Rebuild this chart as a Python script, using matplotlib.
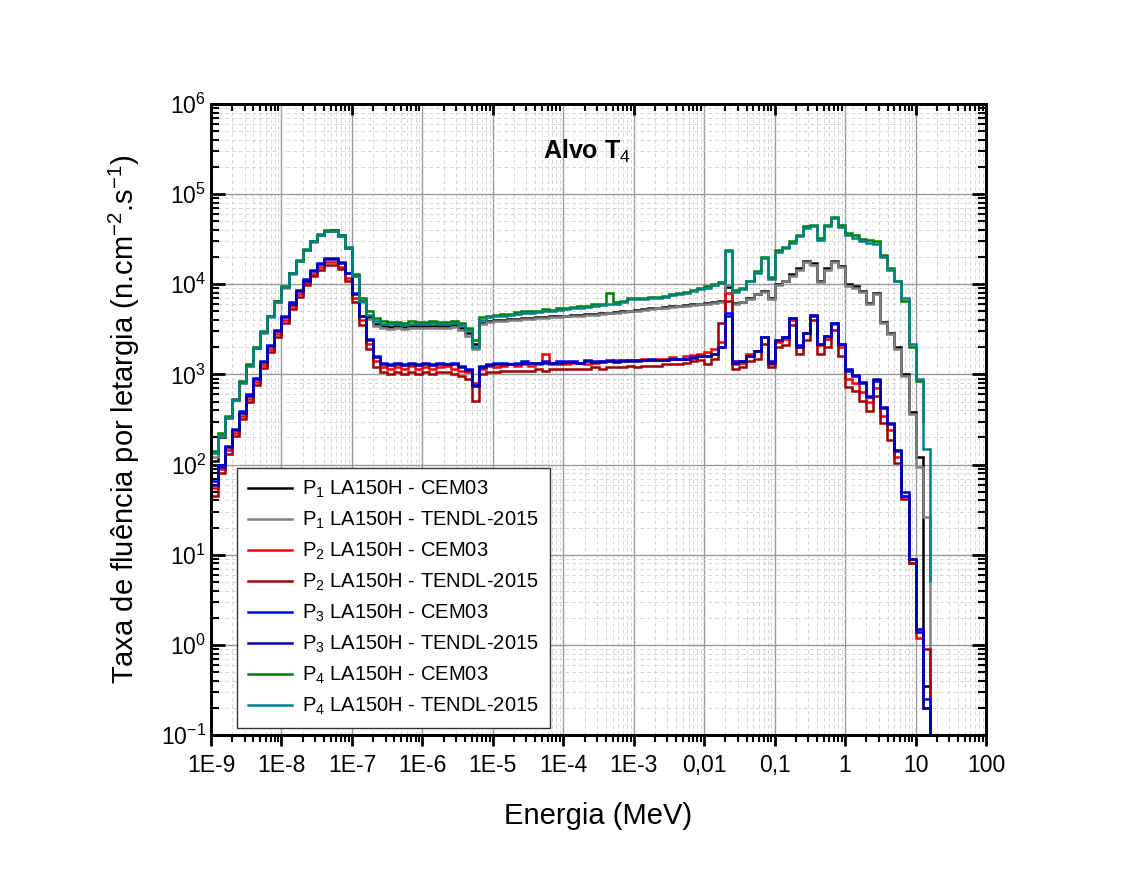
import numpy as np
import matplotlib
matplotlib.use("Agg")
import matplotlib.pyplot as plt
from matplotlib.ticker import LogLocator, NullFormatter

plt.rcParams['font.family'] = ['Liberation Sans', 'DejaVu Sans']
plt.rcParams['mathtext.fontset'] = 'custom'
plt.rcParams['mathtext.rm'] = 'Liberation Sans'
plt.rcParams['mathtext.it'] = 'Liberation Sans:italic'
plt.rcParams['mathtext.bf'] = 'Liberation Sans:bold'

# energy bins: log10(E/MeV), 10 per decade from 1E-9 to ~16 MeV
log_edges = np.round(np.arange(-9.0, 1.21, 0.1), 2)

# flux per lethargy (n.cm^-2.s^-1), one value per bin, rows = decades
p1_cem03 = [
    110, 200, 330, 520, 820, 1280, 1950, 2950, 4400, 6500,
    9300, 13300, 18300, 24200, 30000, 35500, 39000, 39500, 35000, 25500,
    12500, 6500, 4300, 3600, 3400, 3350, 3400, 3350, 3450, 3400,
    3400, 3450, 3400, 3450, 3500, 3300, 2900, 2200, 3700, 3900,
    4000, 4050, 4100, 4150, 4200, 4250, 4300, 4350, 4400, 4450,
    4500, 4550, 4600, 4650, 4700, 4800, 4850, 4900, 5000, 5100,
    5200, 5300, 5400, 5500, 5600, 5700, 5800, 5900, 6000, 6100,
    6200, 6300, 6500, 9300, 6200, 6400, 7000, 7800, 8500, 7000,
    10000, 11000, 13000, 15000, 18000, 17000, 11000, 15000, 18000, 16000,
    10000, 9500, 8500, 6200, 8000, 3800, 2900, 2000, 1000, 380,
    120, 0.35]
p1_tendl = [
    120, 205, 330, 520, 820, 1270, 1950, 2900, 4350, 6400,
    9200, 13100, 18000, 24000, 29800, 35000, 38500, 39000, 34500, 25000,
    12300, 6300, 4100, 3400, 3250, 3200, 3250, 3200, 3300, 3250,
    3250, 3300, 3250, 3300, 3350, 3100, 2700, 1900, 3600, 3800,
    3900, 3950, 4000, 4050, 4100, 4150, 4200, 4250, 4300, 4350,
    4400, 4450, 4500, 4550, 4600, 4700, 4750, 4800, 4900, 5000,
    5100, 5200, 5300, 5400, 5500, 5600, 5700, 5800, 5900, 6000,
    6100, 6200, 6400, 9800, 6000, 6300, 6900, 7700, 8300, 6800,
    9700, 10800, 12500, 14500, 17500, 16500, 10500, 14500, 17500, 15500,
    9500, 9000, 8200, 6000, 7800, 3700, 2800, 1900, 950, 360,
    95, 26]
p2_cem03 = [
    55, 90, 145, 225, 350, 540, 830, 1270, 1900, 2800,
    4000, 5700, 7800, 10300, 13000, 15500, 17500, 17500, 15500, 11800,
    7000, 4000, 2200, 1400, 1200, 1150, 1200, 1150, 1250, 1150,
    1200, 1150, 1200, 1250, 1150, 1100, 1050, 800, 1150, 1250,
    1200, 1250, 1300, 1250, 1300, 1250, 1300, 1700, 1300, 1300,
    1300, 1350, 1350, 1300, 1350, 1400, 1400, 1450, 1400, 1450,
    1450, 1500, 1450, 1500, 1500, 1550, 1500, 1600, 1650, 1700,
    1750, 1900, 2300, 7900, 1300, 1350, 1700, 1800, 2600, 1300,
    2300, 2500, 4000, 2000, 2900, 4600, 2100, 2500, 3600, 2000,
    900, 800, 640, 490, 700, 350, 240, 120, 45, 8,
    1.2, 0.2]
p2_tendl = [
    45, 80, 130, 205, 320, 500, 770, 1180, 1780, 2600,
    3750, 5300, 7300, 9700, 12200, 14500, 16300, 16500, 14600, 11000,
    6300, 3500, 1900, 1200, 1050, 1000, 1050, 1000, 1050, 1000,
    1050, 1000, 1050, 1050, 1000, 950, 900, 510, 1000, 1050,
    1050, 1100, 1100, 1100, 1100, 1100, 1150, 1100, 1150, 1150,
    1150, 1150, 1150, 1150, 1200, 1150, 1200, 1200, 1200, 1250,
    1200, 1250, 1250, 1250, 1300, 1300, 1300, 1350, 1400, 1450,
    1300, 1500, 3700, 6600, 1150, 1200, 1400, 1500, 2200, 1200,
    2000, 2100, 3500, 1700, 2400, 4000, 1700, 2000, 3100, 1600,
    720, 650, 510, 390, 570, 290, 185, 105, 42, 8,
    1.5, 0.9]
p3_cem03 = [
    65, 100, 160, 250, 390, 600, 920, 1400, 2100, 3100,
    4400, 6300, 8600, 11300, 14300, 17000, 19500, 19500, 17500, 13500,
    8000, 4500, 2500, 1600, 1350, 1300, 1350, 1300, 1350, 1300,
    1350, 1300, 1350, 1300, 1350, 1250, 1150, 760, 1250, 1300,
    1350, 1350, 1300, 1350, 1400, 1350, 1350, 1400, 1350, 1400,
    1400, 1400, 1350, 1450, 1400, 1400, 1450, 1400, 1450, 1450,
    1450, 1450, 1500, 1450, 1450, 1500, 1500, 1500, 1550, 1600,
    1600, 1700, 2000, 4800, 1400, 1400, 1600, 1800, 2600, 1400,
    2400, 2600, 4200, 2100, 2900, 4600, 2200, 2700, 3700, 2200,
    1100, 950, 800, 560, 850, 420, 280, 140, 45, 9,
    1.5, 0.25]
p3_tendl = [
    60, 95, 155, 240, 375, 580, 890, 1360, 2050, 3000,
    4300, 6100, 8400, 11000, 14000, 16700, 19000, 19200, 17200, 13200,
    7800, 4400, 2400, 1550, 1300, 1280, 1300, 1280, 1300, 1280,
    1300, 1280, 1300, 1300, 1300, 1220, 1120, 750, 1220, 1280,
    1300, 1320, 1300, 1320, 1350, 1330, 1330, 1350, 1330, 1350,
    1370, 1370, 1350, 1400, 1380, 1380, 1400, 1380, 1420, 1420,
    1420, 1430, 1450, 1430, 1430, 1470, 1470, 1480, 1520, 1580,
    1600, 1700, 2000, 4500, 1350, 1400, 1600, 1800, 2600, 1350,
    2400, 2600, 4200, 2000, 2900, 4500, 2200, 2700, 3700, 2200,
    1150, 980, 820, 580, 880, 430, 290, 145, 50, 9,
    1.4, 0.2]
p4_cem03 = [
    140, 225, 350, 540, 840, 1300, 2000, 3000, 4500, 6600,
    9500, 13500, 18500, 24500, 30500, 36000, 39500, 40000, 35500, 26000,
    13000, 7000, 5000, 4200, 3900, 3800, 3850, 3750, 3900, 3800,
    3850, 3900, 3800, 3850, 3900, 3700, 3300, 2400, 4300, 4500,
    4600, 4700, 4700, 4900, 5000, 5000, 5100, 5300, 5200, 5400,
    5500, 5600, 5700, 5800, 6000, 6100, 8000, 6300, 6600, 7000,
    7000, 7100, 7200, 7200, 7500, 7800, 8000, 8300, 8600, 9000,
    9500, 10000, 10500, 24000, 8600, 9000, 11000, 14000, 20000, 12000,
    24000, 26000, 30000, 35000, 44000, 46000, 33000, 46000, 56000, 46000,
    37000, 35000, 32000, 31000, 30000, 21000, 15000, 11000, 6500, 2000,
    850]
p4_tendl = [
    135, 215, 340, 520, 810, 1250, 1950, 2950, 4400, 6400,
    9300, 13200, 18000, 24000, 30000, 35500, 39000, 39000, 34500, 25000,
    12500, 6600, 4600, 3900, 3650, 3600, 3600, 3550, 3650, 3600,
    3650, 3700, 3600, 3650, 3700, 3500, 3100, 2000, 4000, 4300,
    4400, 4500, 4550, 4700, 4800, 4850, 4900, 5100, 5000, 5200,
    5300, 5400, 5500, 5600, 5800, 5900, 6100, 6100, 6400, 6800,
    6800, 6900, 7000, 7000, 7300, 7600, 7800, 8100, 8400, 8800,
    9200, 9800, 10200, 23500, 8300, 8800, 10800, 13500, 19500, 11500,
    23000, 25000, 29000, 34000, 42000, 44000, 31000, 44000, 54000, 43000,
    35000, 33000, 30000, 29000, 28000, 20000, 14500, 11000, 7000, 2200,
    900, 150]

series = [
    (p1_cem03, "P$_1$ LA150H - CEM03", "black", 0.18),
    (p1_tendl, "P$_1$ LA150H - TENDL-2015", "#808080", 0.05),
    (p2_cem03, "P$_2$ LA150H - CEM03", "#ff0000", 0.05),
    (p2_tendl, "P$_2$ LA150H - TENDL-2015", "#a00000", 0.05),
    (p3_cem03, "P$_3$ LA150H - CEM03", "#0000ff", 0.05),
    (p3_tendl, "P$_3$ LA150H - TENDL-2015", "#0000a8", 0.05),
    (p4_cem03, "P$_4$ LA150H - CEM03", "#008000", 300),
    (p4_tendl, "P$_4$ LA150H - TENDL-2015", "#008080", 5),
]

x_ticks = [1e-9, 1e-8, 1e-7, 1e-6, 1e-5, 1e-4, 1e-3, 1e-2, 1e-1, 1, 10, 100]
x_labels = ["1E-9", "1E-8", "1E-7", "1E-6", "1E-5", "1E-4", "1E-3",
            "0,01", "0,1", "1", "10", "100"]

fig = plt.figure(figsize=(11.31, 8.73), dpi=100)
ax = fig.add_axes([0.1866, 0.1581, 0.6852, 0.7228])

edges = 10.0 ** log_edges
for vals, lab, col, base in series:
    n = len(vals)
    ax.stairs(vals, edges[:n + 1], baseline=base, color=col, lw=1.8, label=lab)

ax.set_xscale('log')
ax.set_yscale('log')
ax.set_xlim(1e-9, 100)
ax.set_ylim(0.1, 1e6)

ax.set_xticks(x_ticks, x_labels)
ax.xaxis.set_minor_locator(LogLocator(base=10, subs=np.arange(2, 10), numticks=20))
ax.xaxis.set_minor_formatter(NullFormatter())
ax.yaxis.set_major_locator(LogLocator(base=10, numticks=20))
ax.yaxis.set_minor_locator(LogLocator(base=10, subs=np.arange(2, 10), numticks=20))
ax.yaxis.set_minor_formatter(NullFormatter())

ax.grid(which='major', color='#9a9a9a', lw=1.0, ls='-')
ax.grid(which='minor', color='#d6d6d6', lw=0.7, ls=(0, (4, 3)))
ax.set_axisbelow(True)

ax.tick_params(axis='x', which='major', direction='out', length=8, width=2, labelsize=16.5, pad=6)
ax.tick_params(axis='x', which='minor', direction='out', length=5, width=1.5)
ax.tick_params(axis='y', which='major', direction='in', length=10, width=2, labelsize=16.5,
               left=True, right=True)
ax.tick_params(axis='y', which='minor', direction='in', length=6, width=1.5,
               left=True, right=True)
for s in ax.spines.values():
    s.set_linewidth(2)

top = ax.twiny()
top.set_xscale('log')
top.set_xlim(ax.get_xlim())
top.xaxis.set_minor_locator(LogLocator(base=10, subs=np.arange(2, 10), numticks=20))
top.tick_params(axis='x', which='major', direction='in', length=8, width=2, labeltop=False)
top.tick_params(axis='x', which='minor', direction='in', length=5, width=1.5)
top.xaxis.set_minor_formatter(NullFormatter())
for s in top.spines.values():
    s.set_linewidth(2)

ax.set_xlabel("Energia (MeV)", fontsize=21, labelpad=18)
ax.set_ylabel("Taxa de fluência por letargia (n.cm$^{-2}$.s$^{-1}$)", fontsize=21, labelpad=14)

ax.text(0.485, 0.925, "Alvo T$_4$", transform=ax.transAxes, fontsize=18,
        fontweight='bold', ha='center', va='center')

leg = ax.legend(loc='lower left', bbox_to_anchor=(0.033, 0.011), borderaxespad=0,
                fontsize=14.5, fancybox=False, edgecolor='#333333', framealpha=1,
                handlelength=2.2, handletextpad=0.5, labelspacing=0.48, borderpad=0.55)
leg.get_frame().set_linewidth(1.0)

fig.savefig("out.png", dpi=100, facecolor='white')
